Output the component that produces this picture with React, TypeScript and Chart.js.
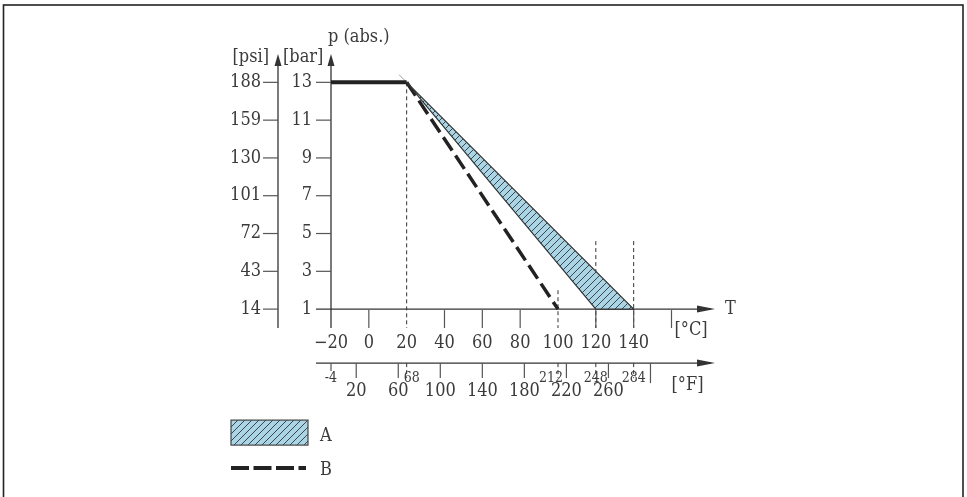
import { useEffect, useRef } from 'react';
import { Chart, registerables } from 'chart.js';

Chart.register(...registerables);

// temperature scale (°C) and pressure scale (bar)
const celsiusTicks = [-20, 0, 20, 40, 60, 80, 100, 120, 140, 160];
const celsiusLabels = ['−20', '0', '20', '40', '60', '80', '100', '120', '140', ''];
const barTicks = [1, 3, 5, 7, 9, 11, 13];
const barLabels = ['1', '3', '5', '7', '9', '11', '13'];
const psiLabels = ['14', '43', '72', '101', '130', '159', '188'];
const fahrenheitTicks = [20, 60, 100, 140, 180, 220, 260, 300];
const fahrenheitLabels = ['20', '60', '100', '140', '180', '220', '260', ''];
const fahrenheitMarks = [-4, 68, 212, 248, 284];
const fahrenheitMarkLabels = ['-4', '68', '212', '248', '284'];

// curves
const ratedTemp = [-20, 20];
const ratedPressure = [13, 13];
const areaTemp = [20, 140, 120, 20];
const areaPressure = [13, 1, 1, 13];
const limitTemp = [20, 100];
const limitPressure = [13, 1];
const edgeTemp = [16, 20];
const edgePressure = [13.4, 13];
const guideTemps = [20, 100, 120, 140];
const guideTops = [13, 2, 4.6, 4.6];
const seriesLabels = ['A', 'B'];

const FONT = '"DejaVu Serif Condensed", "DejaVu Serif", serif';
const INK = '#3b3b3b';

const toC = (f: number) => ((f - 32) * 5) / 9;
const pts = (xs: number[], ys: number[]) => xs.map((x, i) => ({ x, y: ys[i] }));

function makeHatch(): CanvasPattern | string {
  const s = 7;
  const tile = document.createElement('canvas');
  tile.width = s;
  tile.height = s;
  const c = tile.getContext('2d');
  if (!c) return '#a9d5e6';
  c.fillStyle = '#a9d5e6';
  c.fillRect(0, 0, s, s);
  c.strokeStyle = '#333';
  c.lineWidth = 0.9;
  c.beginPath();
  c.moveTo(0, s);
  c.lineTo(s, 0);
  c.moveTo(-1, 1);
  c.lineTo(1, -1);
  c.moveTo(s - 1, s + 1);
  c.lineTo(s + 1, s - 1);
  c.stroke();
  return c.createPattern(tile, 'repeat') || '#a9d5e6';
}

function line(ctx: CanvasRenderingContext2D, x1: number, y1: number, x2: number, y2: number) {
  ctx.beginPath();
  ctx.moveTo(x1, y1);
  ctx.lineTo(x2, y2);
  ctx.stroke();
}

function arrow(ctx: CanvasRenderingContext2D, x: number, y: number, dir: 'up' | 'right') {
  ctx.beginPath();
  if (dir === 'up') {
    ctx.moveTo(x, y);
    ctx.lineTo(x - 3.5, y + 12);
    ctx.lineTo(x + 3.5, y + 12);
  } else {
    ctx.moveTo(x, y);
    ctx.lineTo(x - 18, y - 3.5);
    ctx.lineTo(x - 18, y + 3.5);
  }
  ctx.closePath();
  ctx.fill();
}

function text(ctx: CanvasRenderingContext2D, s: string, x: number, y: number, size: number, align: CanvasTextAlign = 'center') {
  ctx.font = `${size}px ${FONT}`;
  ctx.textAlign = align;
  ctx.textBaseline = 'middle';
  ctx.fillText(s, x, y);
}

const App = () => {
  const canvasRef = useRef<HTMLCanvasElement>(null);
  const chartRef = useRef<Chart | null>(null);

  useEffect(() => {
    if (!canvasRef.current) return;
    const hatch = makeHatch();

    const overlay = {
      id: 'overlay',
      beforeDraw(chart: Chart) {
        const ctx = chart.ctx;
        ctx.save();
        ctx.fillStyle = '#fff';
        ctx.fillRect(0, 0, chart.width, chart.height);
        ctx.strokeStyle = '#222';
        ctx.lineWidth = 1.6;
        ctx.strokeRect(3.5, 5, 959.5, 600);
        ctx.restore();
      },
      beforeDatasetsDraw(chart: Chart) {
        const ctx = chart.ctx;
        const xs = chart.scales.x;
        const ys = chart.scales.y;
        const X = (v: number) => xs.getPixelForValue(v);
        const Y = (v: number) => ys.getPixelForValue(v);
        const area = chart.chartArea;
        const barX = X(-20);
        const psiX = barX - 53;
        const axisY = Y(1);
        const bottomY = Y(0);
        const fAxisY = axisY + 54;

        ctx.save();
        // dashed guides
        ctx.strokeStyle = '#333';
        ctx.lineWidth = 1;
        ctx.setLineDash([4, 3]);
        guideTemps.forEach((t, i) => {
          line(ctx, X(t), Y(guideTops[i]), X(t), bottomY);
        });
        fahrenheitMarks.forEach((f) => {
          if (f < 0) return;
          line(ctx, X(toC(f)), fAxisY, X(toC(f)), fAxisY + 15);
        });
        ctx.setLineDash([]);

        // vertical axes
        ctx.strokeStyle = '#333';
        ctx.fillStyle = '#333';
        ctx.lineWidth = 1.3;
        line(ctx, barX, bottomY, barX, area.top + 4);
        line(ctx, psiX, bottomY, psiX, area.top + 4);
        arrow(ctx, barX, area.top, 'up');
        arrow(ctx, psiX, area.top, 'up');

        // horizontal axes
        line(ctx, barX - 15, axisY, area.right - 4, axisY);
        arrow(ctx, area.right, axisY, 'right');
        line(ctx, barX - 15, fAxisY, area.right - 4, fAxisY);
        arrow(ctx, area.right, fAxisY, 'right');

        // ticks
        ctx.strokeStyle = '#555';
        ctx.lineWidth = 1.2;
        barTicks.forEach((b) => {
          if (b !== 1) line(ctx, barX - 15, Y(b), barX, Y(b));
          line(ctx, psiX - 15, Y(b), psiX, Y(b));
        });
        celsiusTicks.forEach((c) => {
          if (c === -20 || c === 20 || c === 100) return;
          line(ctx, X(c), axisY + 1, X(c), bottomY);
        });
        fahrenheitTicks.forEach((f) => {
          line(ctx, X(toC(f)), fAxisY, X(toC(f)), fAxisY + (f === 300 ? 20 : 15));
        });
        line(ctx, X(toC(-4)), fAxisY, X(toC(-4)), fAxisY + 8);
        ctx.restore();
      },
      afterDatasetsDraw(chart: Chart) {
        const ctx = chart.ctx;
        const xs = chart.scales.x;
        const ys = chart.scales.y;
        const X = (v: number) => xs.getPixelForValue(v);
        const Y = (v: number) => ys.getPixelForValue(v);
        const area = chart.chartArea;
        const barX = X(-20);
        const psiX = barX - 53;
        const axisY = Y(1);
        const fAxisY = axisY + 54;

        ctx.save();
        ctx.fillStyle = INK;
        barTicks.forEach((b, i) => {
          text(ctx, barLabels[i], barX - 19, Y(b), 18, 'right');
          text(ctx, psiLabels[i], psiX - 17, Y(b), 18, 'right');
        });
        text(ctx, '[psi]', psiX - 9, area.top + 3, 18, 'right');
        text(ctx, '[bar]', psiX + 5, area.top + 3, 18, 'left');
        text(ctx, 'p (abs.)', barX - 3, area.top - 17, 18, 'left');

        celsiusTicks.forEach((c, i) => {
          if (celsiusLabels[i]) text(ctx, celsiusLabels[i], X(c), axisY + 34, 18);
        });
        text(ctx, '[°C]', X(160) + 3, axisY + 21, 18, 'left');
        text(ctx, 'T', area.right + 10, axisY, 18, 'left');

        const markShift = [0, 5, -7, 0, 0];
        fahrenheitMarks.forEach((f, i) => {
          text(ctx, fahrenheitMarkLabels[i], X(toC(f)) + markShift[i], fAxisY + 15, 14);
        });
        fahrenheitTicks.forEach((f, i) => {
          if (fahrenheitLabels[i]) text(ctx, fahrenheitLabels[i], X(toC(f)), fAxisY + 28, 18);
        });
        text(ctx, '[°F]', X(160), fAxisY + 22, 18, 'left');

        // legend
        const lx = barX - 100;
        const ly = axisY + 111;
        ctx.fillStyle = hatch as CanvasPattern;
        ctx.fillRect(lx, ly, 77, 25);
        ctx.strokeStyle = '#444';
        ctx.lineWidth = 1.2;
        ctx.strokeRect(lx, ly, 77, 25);
        ctx.fillStyle = INK;
        text(ctx, seriesLabels[0], lx + 89, ly + 16, 18, 'left');
        ctx.strokeStyle = '#222';
        ctx.lineWidth = 4;
        ctx.setLineDash([18, 4.5]);
        line(ctx, lx, ly + 48, lx + 75, ly + 48);
        ctx.setLineDash([]);
        text(ctx, seriesLabels[1], lx + 89, ly + 50, 18, 'left');
        ctx.restore();
      },
    };

    chartRef.current = new Chart(canvasRef.current, {
      type: 'scatter',
      data: {
        datasets: [
          {
            label: seriesLabels[0],
            data: pts(areaTemp, areaPressure),
            showLine: true,
            fill: 'shape',
            backgroundColor: hatch as any,
            borderColor: '#333',
            borderWidth: 1.2,
            pointRadius: 0,
          },
          {
            label: seriesLabels[1],
            data: pts(limitTemp, limitPressure),
            showLine: true,
            borderColor: '#222',
            borderWidth: 3.5,
            borderDash: [16, 6],
            pointRadius: 0,
          },
          {
            label: 'rated',
            data: pts(ratedTemp, ratedPressure),
            showLine: true,
            borderColor: '#222',
            borderWidth: 4,
            pointRadius: 0,
          },
          {
            label: 'edge',
            data: pts(edgeTemp, edgePressure),
            showLine: true,
            borderColor: '#888',
            borderWidth: 0.8,
            pointRadius: 0,
          },
        ],
      },
      options: {
        animation: false,
        responsive: false,
        layout: { padding: { left: 331, right: 252, top: 54, bottom: 169 } },
        scales: {
          x: { type: 'linear', display: false, min: -20, max: 183 },
          y: { type: 'linear', display: false, min: 0, max: 14.5 },
        },
        plugins: {
          legend: { display: false },
          tooltip: { enabled: false },
        },
      },
      plugins: [overlay],
    });

    return () => {
      if (chartRef.current) {
        chartRef.current.destroy();
        chartRef.current = null;
      }
    };
  }, []);

  return (
    <div style={{ position: 'fixed', left: 0, top: 0, width: 967, height: 497, background: '#fff' }}>
      <canvas ref={canvasRef} width={967} height={497} style={{ display: 'block', width: 967, height: 497 }} />
    </div>
  );
};

export default App;
